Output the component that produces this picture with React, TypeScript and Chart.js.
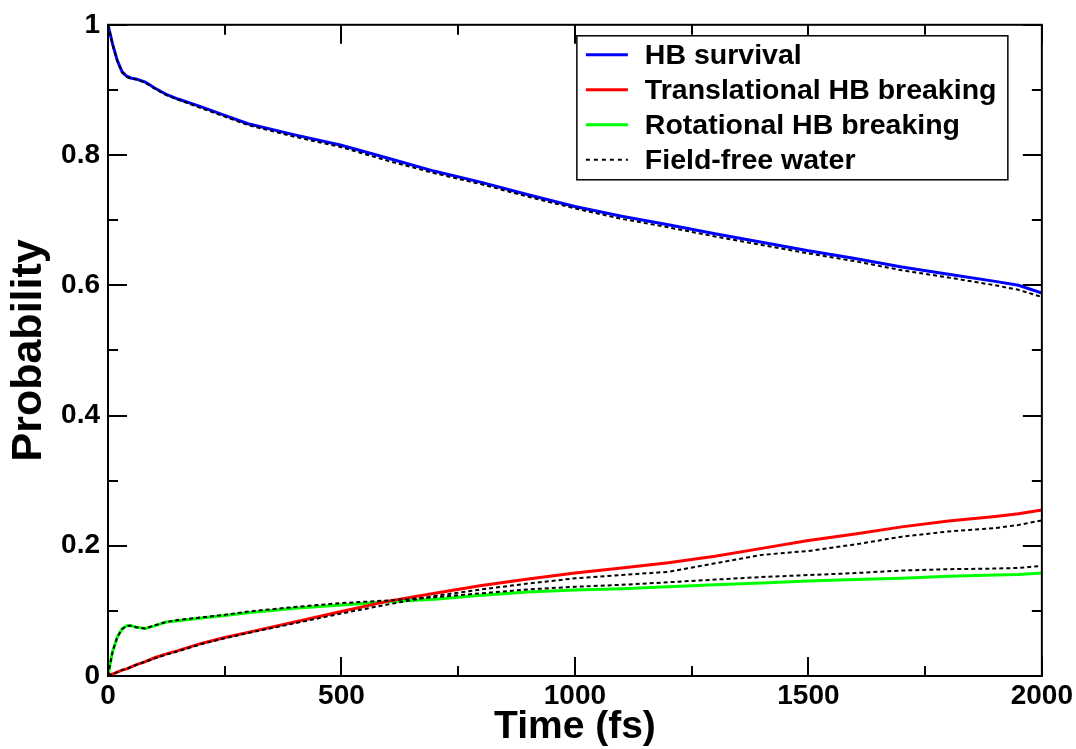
import React, { useEffect, useRef } from "react";
import { Chart, registerables } from "chart.js";

Chart.register(...registerables);

// ---- Data ----
const times = [0, 5, 10, 20, 30, 40, 50, 60, 80, 100, 125, 150, 200, 250, 300, 400, 500, 600, 700, 800, 900, 1000, 1100, 1200, 1300, 1400, 1500, 1600, 1700, 1800, 1900, 1950, 2000];

const hbSurvival = [1.0, 0.985, 0.97, 0.945, 0.928, 0.921, 0.918, 0.917, 0.912, 0.903, 0.893, 0.886, 0.874, 0.861, 0.848, 0.831, 0.815, 0.795, 0.775, 0.758, 0.739, 0.721, 0.706, 0.693, 0.679, 0.666, 0.653, 0.641, 0.628, 0.617, 0.606, 0.6, 0.588];
const translational = [0, 0.002, 0.003, 0.006, 0.009, 0.011, 0.014, 0.017, 0.022, 0.028, 0.034, 0.039, 0.05, 0.059, 0.067, 0.083, 0.099, 0.115, 0.127, 0.139, 0.149, 0.158, 0.166, 0.174, 0.184, 0.196, 0.208, 0.218, 0.229, 0.238, 0.245, 0.249, 0.255];
const rotational = [0, 0.02, 0.038, 0.06, 0.072, 0.077, 0.077, 0.075, 0.073, 0.077, 0.083, 0.085, 0.089, 0.093, 0.097, 0.104, 0.109, 0.114, 0.118, 0.124, 0.129, 0.132, 0.134, 0.137, 0.14, 0.143, 0.146, 0.148, 0.15, 0.153, 0.155, 0.156, 0.158];

const ffSurvival = [1.0, 0.985, 0.969, 0.944, 0.927, 0.92, 0.917, 0.916, 0.911, 0.902, 0.892, 0.885, 0.872, 0.859, 0.846, 0.828, 0.812, 0.791, 0.772, 0.755, 0.736, 0.718, 0.702, 0.689, 0.675, 0.662, 0.649, 0.637, 0.623, 0.612, 0.6, 0.593, 0.582];
const ffTranslational = [0, 0.002, 0.003, 0.006, 0.009, 0.011, 0.014, 0.017, 0.022, 0.027, 0.033, 0.038, 0.049, 0.058, 0.066, 0.081, 0.096, 0.11, 0.123, 0.133, 0.142, 0.15, 0.155, 0.16, 0.173, 0.186, 0.192, 0.202, 0.214, 0.222, 0.227, 0.232, 0.239];
const ffRotational = [0, 0.02, 0.038, 0.06, 0.072, 0.077, 0.077, 0.075, 0.073, 0.078, 0.083, 0.086, 0.09, 0.094, 0.099, 0.106, 0.112, 0.116, 0.121, 0.127, 0.133, 0.137, 0.14, 0.144, 0.148, 0.152, 0.155, 0.158, 0.162, 0.164, 0.165, 0.166, 0.169];

const legendLabels = ["HB survival", "Translational HB breaking", "Rotational HB breaking", "Field-free water"];
const legendColors = ["#0000ff", "#ff0000", "#00ff00", "#000000"];
const legendDashed = [false, false, false, true];

const xMin = 0;
const xMax = 2000;
const xMajorStep = 500;
const xMinorStep = 250;
const yMin = 0;
const yMax = 1;
const yMajorStep = 0.2;
const yMinorStep = 0.1;

const xTitle = "Time (fs)";
const yTitle = "Probability";

const FONT = '"Liberation Sans", Arial, Helvetica, sans-serif';

const pts = (ys: number[]) => times.map((t, i) => ({ x: t, y: ys[i] }));

const framePlugin = {
  id: "frameTicks",
  afterDatasetsDraw(chart: any) {
    const { ctx, chartArea } = chart;
    const { left, right, top, bottom } = chartArea;
    const xs = chart.scales.x;
    const ys = chart.scales.y;
    ctx.save();
    ctx.strokeStyle = "#000";
    ctx.lineWidth = 2;
    ctx.strokeRect(left, top, right - left, bottom - top);
    ctx.beginPath();
    for (let v = xMin; v <= xMax + 1e-9; v += xMinorStep) {
      const px = Math.round(xs.getPixelForValue(v));
      const major = Math.abs(v / xMajorStep - Math.round(v / xMajorStep)) < 1e-6;
      const len = major ? 19 : 10;
      ctx.moveTo(px, bottom);
      ctx.lineTo(px, bottom - len);
      ctx.moveTo(px, top);
      ctx.lineTo(px, top + len);
    }
    for (let i = 0; i <= Math.round((yMax - yMin) / yMinorStep); i++) {
      const v = yMin + i * yMinorStep;
      const py = Math.round(ys.getPixelForValue(v));
      const major = i % Math.round(yMajorStep / yMinorStep) === 0;
      const len = major ? 19 : 10;
      ctx.moveTo(left, py);
      ctx.lineTo(left + len, py);
      ctx.moveTo(right, py);
      ctx.lineTo(right - len, py);
    }
    ctx.stroke();
    ctx.restore();
  },
};

const legendPlugin = {
  id: "boxLegend",
  afterDraw(chart: any) {
    const { ctx, chartArea } = chart;
    const boxRight = chartArea.right - 34;
    const boxLeft = boxRight - 431;
    const boxTop = chartArea.top + 11;
    const boxH = 144;
    ctx.save();
    ctx.fillStyle = "#fff";
    ctx.fillRect(boxLeft, boxTop, boxRight - boxLeft, boxH);
    ctx.strokeStyle = "#000";
    ctx.lineWidth = 1.5;
    ctx.strokeRect(boxLeft, boxTop, boxRight - boxLeft, boxH);
    ctx.font = `bold 28.5px ${FONT}`;
    ctx.textBaseline = "middle";
    ctx.textAlign = "left";
    legendLabels.forEach((label, i) => {
      const cy = boxTop + 19 + i * 35;
      ctx.beginPath();
      ctx.strokeStyle = legendColors[i];
      ctx.lineWidth = legendDashed[i] ? 2 : 3;
      ctx.setLineDash(legendDashed[i] ? [4, 4] : []);
      ctx.moveTo(boxLeft + 9, cy);
      ctx.lineTo(boxLeft + 51, cy);
      ctx.stroke();
      ctx.setLineDash([]);
      ctx.fillStyle = "#000";
      ctx.fillText(label, boxLeft + 68, cy + 1);
    });
    ctx.restore();
  },
};

export default function App() {
  const ref = useRef<HTMLCanvasElement | null>(null);

  useEffect(() => {
    if (!ref.current) return;
    const solid = (label: string, data: number[], color: string) => ({
      label,
      data: pts(data),
      borderColor: color,
      backgroundColor: color,
      borderWidth: 3,
      pointRadius: 0,
      fill: false,
      tension: 0,
      order: 2,
    });
    const dotted = (label: string, data: number[]) => ({
      label,
      data: pts(data),
      borderColor: "#000",
      backgroundColor: "#000",
      borderWidth: 2,
      borderDash: [4, 3],
      pointRadius: 0,
      fill: false,
      tension: 0,
      order: 1,
    });
    const chart = new Chart(ref.current, {
      type: "line",
      data: {
        datasets: [
          solid(legendLabels[0], hbSurvival, legendColors[0]),
          solid(legendLabels[1], translational, legendColors[1]),
          solid(legendLabels[2], rotational, legendColors[2]),
          dotted(legendLabels[3], ffSurvival),
          dotted(legendLabels[3] + " (trans)", ffTranslational),
          dotted(legendLabels[3] + " (rot)", ffRotational),
        ] as any,
      },
      options: {
        animation: false,
        responsive: false,
        maintainAspectRatio: false,
        layout: { padding: { top: 23, right: 33, left: 0, bottom: 0 } },
        plugins: {
          legend: { display: false },
          tooltip: { enabled: false },
        },
        scales: {
          x: {
            type: "linear",
            min: xMin,
            max: xMax,
            grid: { display: false, drawTicks: false },
            border: { display: false },
            ticks: {
              stepSize: xMajorStep,
              padding: 3,
              color: "#000",
              font: { family: FONT, size: 28, weight: "bold" },
              callback: (v: any) => String(v),
              maxRotation: 0,
            },
            title: {
              display: true,
              text: xTitle,
              color: "#000",
              font: { family: FONT, size: 39, weight: "bold", lineHeight: 1.1 },
              padding: { top: 0, bottom: 0 },
            },
            afterFit: (scale: any) => {
              scale.height = 73;
            },
          },
          y: {
            type: "linear",
            min: yMin,
            max: yMax,
            grid: { display: false, drawTicks: false },
            border: { display: false },
            ticks: {
              stepSize: yMajorStep,
              padding: 8,
              color: "#000",
              font: { family: FONT, size: 28, weight: "bold" },
              callback: (v: any) => String(Math.round(Number(v) * 10) / 10),
            },
            title: {
              display: true,
              text: yTitle,
              color: "#000",
              font: { family: FONT, size: 43, weight: "bold", lineHeight: 1.2 },
              padding: { top: 3, bottom: 0 },
            },
            afterFit: (scale: any) => {
              scale.width = 108;
            },
          },
        },
      } as any,
      plugins: [framePlugin, legendPlugin],
    });
    return () => chart.destroy();
  }, []);

  return (
    <div style={{ position: "absolute", left: 0, top: 0, width: 1076, height: 749, background: "#fff" }}>
      <canvas ref={ref} width={1076} height={749} style={{ display: "block" }} />
    </div>
  );
}
